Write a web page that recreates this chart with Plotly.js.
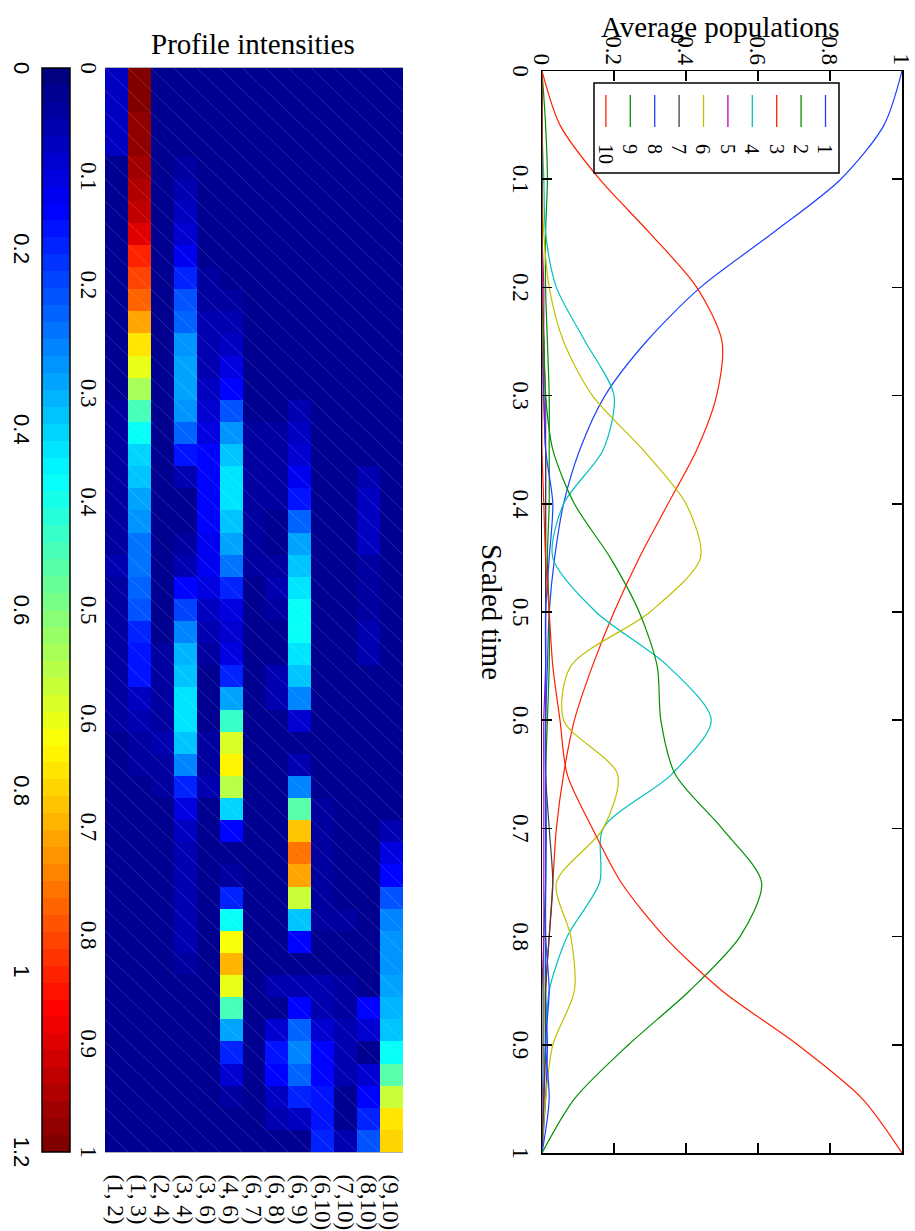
<!DOCTYPE html>
<html>
<head>
<meta charset="utf-8">
<script src="https://cdn.plot.ly/plotly-3.0.1.min.js"></script>
<style>
html,body{margin:0;padding:0;width:915px;height:1231px;overflow:hidden;background:#fff}
#wrap{position:absolute;left:0;top:0;width:1231px;height:915px;transform-origin:0 0;transform:translate(915px,0) rotate(90deg)}
#chart{width:1231px;height:915px}
</style>
</head>
<body>
<div id="wrap"><div id="chart"></div></div>
<script>
// ---------------- DATA ----------------
// Average populations (scaled time grid)
const timeGrid = [0,0.05,0.1,0.15,0.2,0.25,0.3,0.35,0.4,0.45,0.5,0.55,0.6,0.65,0.7,0.75,0.8,0.85,0.9,0.95,1];
const pop1  = [1.0,0.95,0.83,0.64,0.44,0.29,0.175,0.105,0.06,0.035,0.02,0.015,0.01,0.01,0.012,0.01,0.01,0.01,0.015,0.01,0.0];
const pop2  = [0,0.01,0.015,0.01,0.01,0.015,0.02,0.02,0.02,0.015,0.02,0.02,0.015,0.01,0.01,0.01,0.005,0.005,0.005,0.005,0];
const pop3  = [0,0.05,0.16,0.30,0.43,0.50,0.485,0.43,0.35,0.27,0.20,0.14,0.09,0.06,0.04,0.03,0.02,0.01,0.01,0.005,0];
const pop4  = [0,0,0.005,0.01,0.04,0.12,0.20,0.17,0.06,0.03,0.15,0.35,0.47,0.36,0.17,0.16,0.07,0.02,0.01,0,0];
const pop5  = [0,0,0,0,0.005,0.005,0.01,0.01,0.01,0.01,0.01,0.01,0.005,0.005,0.005,0.005,0.005,0,0,0,0];
const pop6  = [0,0,0,0.005,0.02,0.06,0.14,0.28,0.40,0.44,0.30,0.08,0.06,0.21,0.17,0.04,0.08,0.09,0.03,0.01,0];
const pop7  = [0,0,0,0,0,0.005,0.005,0.01,0.01,0.01,0.01,0.01,0.01,0.01,0.02,0.03,0.02,0.01,0.01,0.005,0];
const pop8  = [0,0,0,0,0,0,0.005,0.01,0.03,0.02,0.01,0.01,0.01,0.01,0.01,0.01,0.01,0.02,0.01,0.02,0];
const pop9  = [0,0,0,0,0,0.005,0.01,0.03,0.09,0.19,0.27,0.32,0.33,0.37,0.50,0.61,0.55,0.41,0.24,0.09,0];
const pop10 = [0,0,0,0,0,0,0,0,0.005,0.01,0.02,0.03,0.05,0.07,0.14,0.22,0.34,0.50,0.71,0.89,1.0];
const seriesNames = ['1','2','3','4','5','6','7','8','9','10'];
const seriesColors = ['#2040ff','#009000','#ff2000','#00c0c0','#c000c0','#c0c000','#404040','#2040ff','#009000','#ff2000'];

// Profile intensities: 49 time bins for each pair
const pairLabels = ['(1, 2)','(1, 3)','(2, 4)','(3, 4)','(3, 6)','(4, 6)','(6, 7)','(6, 8)','(6, 9)','(6,10)','(7,10)','(8,10)','(9,10)'];
const int_1_2  = [0.08,0.09,0.09,0.09,0.03,0.03,0.03,0.03,0.03,0.03,0.03,0.03,0.03,0.03,0.03,0.04,0.04,0.04,0.04,0.04,0.04,0.04,0.06,0.04,0.04,0.04,0.04,0.04,0.04,0.04,0.03,0.02,0.02,0.02,0.02,0.02,0.02,0.02,0.02,0.02,0.02,0.02,0.02,0.02,0.02,0.02,0.02,0.02,0.02];
const int_1_3  = [1.19,1.19,1.18,1.18,1.16,1.14,1.115,1.085,1.005,0.97,0.924,0.86,0.786,0.714,0.64,0.525,0.45,0.405,0.375,0.35,0.32,0.29,0.29,0.28,0.25,0.20,0.17,0.17,0.09,0.07,0.05,0.04,0.03,0.02,0.02,0.02,0.02,0.02,0.02,0.02,0.02,0.02,0.02,0.02,0.02,0.02,0.02,0.02,0.02];
const int_2_4  = [0.02,0.02,0.02,0.02,0.02,0.02,0.02,0.02,0.02,0.02,0.02,0.02,0.02,0.02,0.02,0.02,0.02,0.02,0.02,0.02,0.02,0.02,0.02,0.02,0.02,0.02,0.04,0.05,0.05,0.05,0.06,0.05,0.04,0.02,0.02,0.02,0.02,0.02,0.02,0.02,0.02,0.02,0.02,0.02,0.02,0.02,0.02,0.02,0.02];
const int_3_4  = [0.02,0.02,0.02,0.02,0.04,0.07,0.09,0.11,0.14,0.19,0.26,0.28,0.32,0.34,0.35,0.32,0.28,0.17,0.07,0.03,0.02,0.04,0.07,0.16,0.24,0.31,0.36,0.39,0.42,0.43,0.38,0.31,0.19,0.12,0.08,0.06,0.06,0.07,0.06,0.06,0.05,0.02,0.02,0.02,0.02,0.02,0.02,0.02,0.02];
const int_3_6  = [0.02,0.02,0.02,0.02,0.02,0.02,0.02,0.02,0.02,0.05,0.04,0.06,0.06,0.07,0.08,0.10,0.12,0.16,0.15,0.15,0.15,0.14,0.14,0.12,0.09,0.06,0.04,0.02,0.02,0.02,0.05,0.05,0.06,0.03,0.03,0.03,0.03,0.03,0.03,0.02,0.02,0.02,0.02,0.02,0.02,0.02,0.02,0.02,0.02];
const int_4_6  = [0.02,0.02,0.02,0.02,0.02,0.02,0.02,0.02,0.02,0.02,0.05,0.07,0.09,0.12,0.16,0.26,0.32,0.39,0.42,0.43,0.38,0.34,0.29,0.19,0.13,0.11,0.12,0.20,0.35,0.51,0.70,0.75,0.657,0.405,0.16,0.02,0.04,0.19,0.45,0.735,0.834,0.72,0.525,0.34,0.19,0.11,0.05,0.03,0.02];
const int_6_7  = [0.02,0.02,0.02,0.02,0.02,0.02,0.02,0.02,0.02,0.02,0.02,0.02,0.02,0.02,0.02,0.02,0.04,0.04,0.04,0.04,0.05,0.05,0.04,0.03,0.03,0.03,0.03,0.03,0.03,0.03,0.02,0.02,0.02,0.02,0.02,0.02,0.03,0.03,0.02,0.02,0.02,0.02,0.02,0.02,0.02,0.02,0.02,0.02,0.02];
const int_6_8  = [0.02,0.02,0.02,0.02,0.02,0.02,0.02,0.02,0.02,0.02,0.02,0.02,0.02,0.02,0.02,0.02,0.04,0.04,0.04,0.04,0.02,0.02,0.04,0.06,0.05,0.03,0.03,0.06,0.06,0.03,0.02,0.02,0.02,0.02,0.02,0.02,0.02,0.02,0.02,0.02,0.02,0.07,0.02,0.11,0.18,0.16,0.09,0.06,0.02];
const int_6_9  = [0.02,0.02,0.02,0.02,0.02,0.02,0.02,0.02,0.02,0.02,0.02,0.02,0.02,0.02,0.02,0.06,0.08,0.10,0.14,0.17,0.28,0.34,0.38,0.43,0.46,0.45,0.43,0.39,0.30,0.11,0.02,0.06,0.30,0.56,0.816,0.91,0.86,0.675,0.39,0.16,0.02,0.07,0.16,0.28,0.30,0.28,0.19,0.08,0.02];
const int_6_10 = [0.02,0.02,0.02,0.02,0.02,0.02,0.02,0.02,0.02,0.02,0.02,0.02,0.02,0.02,0.02,0.02,0.02,0.02,0.02,0.02,0.02,0.02,0.02,0.02,0.02,0.02,0.02,0.02,0.02,0.02,0.02,0.02,0.02,0.05,0.05,0.05,0.05,0.05,0.05,0.03,0.02,0.06,0.07,0.10,0.15,0.16,0.18,0.18,0.19];
const int_7_10 = [0.02,0.02,0.02,0.02,0.02,0.02,0.02,0.02,0.02,0.02,0.02,0.02,0.02,0.02,0.02,0.02,0.02,0.02,0.02,0.02,0.02,0.02,0.02,0.02,0.02,0.02,0.02,0.02,0.02,0.02,0.02,0.02,0.02,0.02,0.02,0.02,0.02,0.02,0.04,0.02,0.02,0.05,0.04,0.06,0.07,0.06,0.02,0.02,0.07];
const int_8_10 = [0.02,0.02,0.02,0.02,0.02,0.02,0.02,0.02,0.02,0.02,0.02,0.02,0.02,0.02,0.02,0.02,0.02,0.02,0.06,0.08,0.09,0.09,0.05,0.04,0.05,0.07,0.07,0.02,0.02,0.02,0.02,0.02,0.02,0.02,0.02,0.02,0.02,0.02,0.02,0.02,0.02,0.02,0.15,0.11,0.02,0.11,0.16,0.19,0.26];
const int_9_10 = [0.02,0.02,0.02,0.02,0.02,0.02,0.02,0.02,0.02,0.02,0.02,0.02,0.02,0.02,0.02,0.02,0.02,0.02,0.02,0.02,0.02,0.02,0.02,0.02,0.02,0.02,0.02,0.02,0.02,0.02,0.03,0.03,0.03,0.03,0.07,0.12,0.16,0.26,0.30,0.32,0.32,0.34,0.36,0.39,0.45,0.56,0.68,0.777,0.80];
const intensityRows = [int_1_2,int_1_3,int_2_4,int_3_4,int_3_6,int_4_6,int_6_7,int_6_8,int_6_9,int_6_10,int_7_10,int_8_10,int_9_10];

const popTicks = [0,0.2,0.4,0.6,0.8,1];
const popTickText = ['0','0.2','0.4','0.6','0.8','1'];
const timeTicks = [0,0.1,0.2,0.3,0.4,0.5,0.6,0.7,0.8,0.9,1];
const timeTickText = ['0','0.1','0.2','0.3','0.4','0.5','0.6','0.7','0.8','0.9','1'];
const cbTicks = [0,0.2,0.4,0.6,0.8,1,1.2];
const cbTickText = ['0','0.2','0.4','0.6','0.8','1','1.2'];

// ---------------- BUILD ----------------
const W = 1231, H = 915;
const nBins = int_1_3.length;
const timeEdges = Array.from({length: nBins + 1}, (_, i) => i / nBins);
const pairIdx = pairLabels.map((_, i) => i);

// discrete jet(64) colorscale
function jet(f){
  const c = v => Math.max(0, Math.min(1, v));
  const r = c(Math.min(4*f - 1.5, -4*f + 4.5));
  const g = c(Math.min(4*f - 0.5, -4*f + 3.5));
  const b = c(Math.min(4*f + 0.5, -4*f + 2.5));
  return 'rgb(' + Math.round(r*255) + ',' + Math.round(g*255) + ',' + Math.round(b*255) + ')';
}
const jetScale = [];
for (let i = 0; i < 64; i++) {
  const col = jet(i / 63);
  jetScale.push([i / 64, col]);
  jetScale.push([(i + 1) / 64, col]);
}

const pops = [pop1,pop2,pop3,pop4,pop5,pop6,pop7,pop8,pop9,pop10];
const traces = pops.map((p, i) => ({
  type: 'scatter', mode: 'lines', x: timeGrid, y: p, name: seriesNames[i],
  line: {color: seriesColors[i], width: 1.2, shape: 'spline', smoothing: 0.8},
  xaxis: 'x', yaxis: 'y', hoverinfo: 'skip', showlegend: false
}));

traces.push({
  type: 'heatmap', x: timeEdges, y: pairIdx, z: intensityRows,
  xaxis: 'x2', yaxis: 'y2', zmin: 0, zmax: 1.2, colorscale: jetScale,
  showscale: true, showlegend: false, hoverinfo: 'skip',
  colorbar: {
    orientation: 'h', x: 68 / W, xanchor: 'left', len: 1084 / W, lenmode: 'fraction',
    y: 1 - 845 / H, yanchor: 'top', thickness: 28, thicknessmode: 'pixels',
    outlinewidth: 1.5, outlinecolor: '#000', tickvals: cbTicks, ticktext: cbTickText,
    ticks: '', tickfont: {family: 'Liberation Sans, Arial, sans-serif', size: 22, color: '#000'},
    xpad: 0, ypad: 0
  }
});

// faint cell-diagonal seams of the heatmap
const dx = [], dy = [];
for (let c = 0; c < pairIdx.length; c++) {
  for (let r = 0; r < nBins; r++) {
    dx.push(timeEdges[r], timeEdges[r + 1], null);
    dy.push(pairIdx[c] - 0.5, pairIdx[c] + 0.5, null);
  }
}
traces.push({
  type: 'scatter', mode: 'lines', x: dx, y: dy, xaxis: 'x2', yaxis: 'y2',
  line: {color: 'rgba(255,255,255,0.22)', width: 0.7}, showlegend: false,
  hoverinfo: 'skip', connectgaps: false
});

const serif = 'Liberation Serif, Times New Roman, serif';
const axisCommon = {
  ticks: 'inside', ticklen: 10, tickwidth: 1.5, tickcolor: '#000',
  showline: true, linecolor: '#000', linewidth: 1.5, mirror: 'ticks',
  showgrid: false, zeroline: false, tickfont: {family: serif, size: 23, color: '#000'}
};

// hand-built legend (box, line samples, labels) in paper coordinates
const legBox = {u0: 83, u1: 173, v0: 76, v1: 321};
const legFirst = 89.5, legStep = 24.4, legLine0 = 95, legLine1 = 127, legText = 142;
const shapes = [{
  type: 'rect', xref: 'paper', yref: 'paper', layer: 'above',
  x0: legBox.u0 / W, x1: legBox.u1 / W, y0: 1 - legBox.v1 / H, y1: 1 - legBox.v0 / H,
  line: {color: '#000', width: 1.5}, fillcolor: '#fff'
}];
const annotations = [
  {text: 'Average populations', textangle: -90, xref: 'paper', yref: 'paper',
   x: 27 / W, y: 1 - 195 / H, xanchor: 'center', yanchor: 'middle', showarrow: false,
   font: {family: serif, size: 29, color: '#000'}},
  {text: 'Profile intensities', textangle: -90, xref: 'paper', yref: 'paper',
   x: 44 / W, y: 1 - 662 / H, xanchor: 'center', yanchor: 'middle', showarrow: false,
   font: {family: serif, size: 29, color: '#000'}}
];
seriesNames.forEach((nm, i) => {
  const v = legFirst + legStep * i;
  shapes.push({type: 'line', xref: 'paper', yref: 'paper', layer: 'above',
    x0: legLine0 / W, x1: legLine1 / W, y0: 1 - v / H, y1: 1 - v / H,
    line: {color: seriesColors[i], width: 1.3}});
  annotations.push({text: nm, xref: 'paper', yref: 'paper', x: legText / W, y: 1 - v / H,
    xanchor: 'left', yanchor: 'middle', showarrow: false,
    font: {family: serif, size: 20, color: '#000'}});
});

const layout = {
  width: W, height: H, margin: {l: 0, r: 0, t: 0, b: 0},
  paper_bgcolor: '#fff', plot_bgcolor: '#fff',
  font: {family: serif, size: 23, color: '#000'},
  showlegend: false,
  xaxis: Object.assign({}, axisCommon, {
    domain: [71 / W, 1153 / W], range: [0, 1], anchor: 'y',
    tickvals: timeTicks, ticktext: timeTickText,
    title: {text: 'Scaled time', font: {family: serif, size: 29, color: '#000'}, standoff: 6}
  }),
  yaxis: Object.assign({}, axisCommon, {
    domain: [1 - 373 / H, 1 - 13 / H], range: [0, 1], anchor: 'x',
    tickvals: popTicks, ticktext: popTickText
  }),
  xaxis2: {
    domain: [68 / W, 1152 / W], range: [0, 1], anchor: 'y2',
    tickvals: timeTicks, ticktext: timeTickText, ticks: '',
    showline: false, showgrid: false, zeroline: false,
    tickfont: {family: serif, size: 23, color: '#000'}
  },
  yaxis2: {
    domain: [1 - 810 / H, 1 - 512 / H], range: [-0.5, 12.5], anchor: 'x2', side: 'right',
    tickvals: pairIdx, ticktext: pairLabels, ticks: '', ticklabelstandoff: 17,
    showline: true, mirror: true, linecolor: '#b0b0b0', linewidth: 1,
    showgrid: false, zeroline: false,
    tickfont: {family: serif, size: 23, color: '#000'}
  },
  shapes: shapes,
  annotations: annotations
};

Plotly.newPlot('chart', traces, layout, {staticPlot: true, displayModeBar: false});
</script>
</body>
</html>
